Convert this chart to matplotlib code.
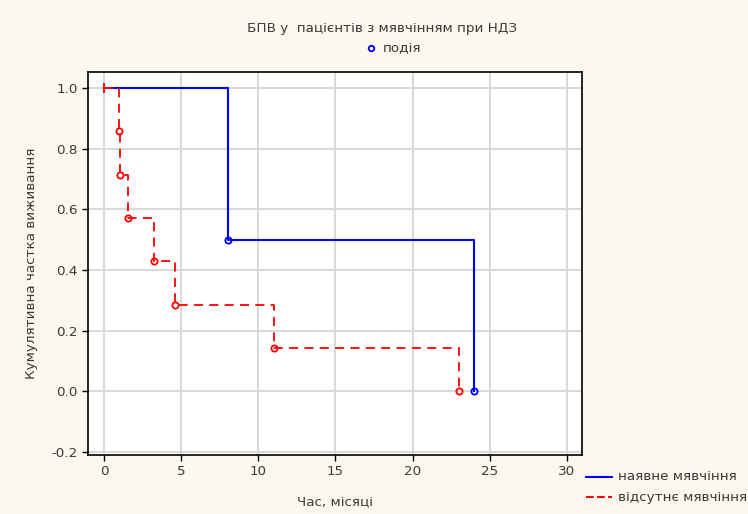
import matplotlib.pyplot as plt

# Kaplan-Meier curves: event times and survival after each event
t_present = [0, 8, 24]
s_present = [1.0, 0.5, 0.0]

t_absent = [0, 0.95, 1.0, 1.55, 3.2, 4.6, 11, 23]
s_absent = [1.0, 6/7, 5/7, 4/7, 3/7, 2/7, 1/7, 0.0]

title = 'БПВ у  пацієнтів з мявчінням при НДЗ'
xlabel = 'Час, місяці'
ylabel = 'Кумулятивна частка виживання'
labels = ['наявне мявчіння', 'відсутнє мявчіння']
event_label = 'подія'

plt.rcParams['font.family'] = ['DejaVu Sans']
txt = '#3a3a3a'
bg = '#fdf8ee'
fs = 9.7

fig = plt.figure(figsize=(7.48, 5.14), dpi=100, facecolor=bg)
ax = fig.add_axes([0.118, 0.115, 0.660, 0.745])
ax.set_facecolor('white')

ax.plot(t_present, s_present, drawstyle='steps-post', color='#0000ff', lw=1.5)
ax.plot(t_present[1:], s_present[1:], 'o', ms=4.5, mfc='none', mec='#0000ff', mew=1.3)

ax.plot(t_absent, s_absent, drawstyle='steps-post', color='#ff0000', lw=1.3,
        dashes=(5, 3.5))
ax.plot(t_absent[1:], s_absent[1:], 'o', ms=4.5, mfc='none', mec='#ff0000', mew=1.3)
ax.plot([0], [1.0], '|', ms=7, color='#ff0000', mew=1.3)

ax.set_xlim(-1.05, 31)
ax.set_ylim(-0.21, 1.053)
ax.set_xticks(range(0, 31, 5))
ax.set_yticks([-0.2, 0.0, 0.2, 0.4, 0.6, 0.8, 1.0])
ax.set_yticklabels(['-0.2', '0.0', '0.2', '0.4', '0.6', '0.8', '1.0'])
ax.grid(True, color='#d8d8d8', lw=1.4)
ax.set_axisbelow(True)
for sp in ax.spines.values():
    sp.set_color('black')
    sp.set_linewidth(1.2)
ax.tick_params(direction='out', length=4, width=1, colors='black',
               labelcolor=txt, labelsize=fs)

ax.set_xlabel(xlabel, fontsize=fs, color=txt, labelpad=12)
ax.set_ylabel(ylabel, fontsize=fs, color=txt, labelpad=10)

fig.text(0.511, 0.945, title, ha='center', va='center', fontsize=fs, color=txt)
fig.lines.append(plt.Line2D([0.496], [0.906], marker='o', ms=4, mfc='none',
                            mec='#0000ff', mew=1.3, transform=fig.transFigure))
fig.text(0.512, 0.906, event_label, ha='left', va='center', fontsize=fs, color=txt)

# legend outside the plot, bottom right
for i, (lab, col, ls) in enumerate(zip(labels, ['#0000ff', '#ff0000'], ['-', '--'])):
    y = 0.072 - i * 0.039
    fig.lines.append(plt.Line2D([0.783, 0.818], [y, y], color=col, ls=ls, lw=1.5,
                                transform=fig.transFigure))
    fig.text(0.826, y, lab, ha='left', va='center', fontsize=fs, color=txt)

fig.savefig('out.png', dpi=100, facecolor=bg)
